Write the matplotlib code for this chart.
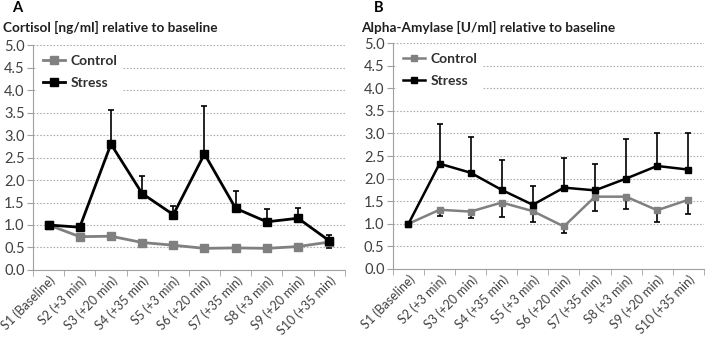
import matplotlib
matplotlib.use("Agg")
import matplotlib.pyplot as plt
import numpy as np

categories = ["S1 (Baseline)", "S2 (+3 min)", "S3 (+20 min)", "S4 (+35 min)", "S5 (+3 min)",
              "S6 (+20 min)", "S7 (+35 min)", "S8 (+3 min)", "S9 (+20 min)", "S10 (+35 min)"]

cort_stress = [1.0, 0.95, 2.80, 1.70, 1.23, 2.58, 1.37, 1.07, 1.15, 0.65]
cort_stress_err = [0.0, 0.0, 0.75, 0.40, 0.19, 1.07, 0.38, 0.28, 0.22, 0.13]
cort_control = [1.0, 0.74, 0.75, 0.61, 0.55, 0.48, 0.49, 0.48, 0.52, 0.62]
cort_control_err = [0.0, 0.0, 0.08, 0.0, 0.0, 0.0, 0.0, 0.0, 0.0, 0.14]

amy_stress = [1.0, 2.33, 2.13, 1.75, 1.42, 1.80, 1.74, 2.00, 2.28, 2.20]
amy_stress_err = [0.0, 0.89, 0.80, 0.67, 0.41, 0.65, 0.58, 0.87, 0.74, 0.80]
amy_control = [1.0, 1.31, 1.27, 1.47, 1.28, 0.94, 1.60, 1.60, 1.30, 1.53]
amy_control_err = [0.0, 0.14, 0.14, 0.33, 0.25, 0.14, 0.32, 0.28, 0.25, 0.31]

yticks = [0.0, 0.5, 1.0, 1.5, 2.0, 2.5, 3.0, 3.5, 4.0, 4.5, 5.0]

plt.rcParams['font.family'] = ['Lato', 'DejaVu Sans']

fig = plt.figure(figsize=(7.08, 3.37), dpi=100)
ax1 = fig.add_axes([0.0466, 0.199, 0.4404, 0.667])
ax2 = fig.add_axes([0.555, 0.202, 0.439, 0.670])

GRAY = '#808080'

def draw(ax, stress, serr, control, cerr, ms, lw):
    x = np.arange(len(categories))
    zeros = [0] * len(categories)
    ax.errorbar(x, control, yerr=[cerr, zeros], fmt='none', ecolor='black',
                elinewidth=1.2, capsize=2, capthick=1.2, zorder=2)
    ax.errorbar(x, stress, yerr=[zeros, serr], fmt='none', ecolor='black',
                elinewidth=1.2, capsize=2, capthick=1.2, zorder=2)
    ax.plot(x, control, color=GRAY, marker='s', markersize=ms, lw=lw, label='Control', zorder=3)
    ax.plot(x, stress, color='black', marker='s', markersize=ms, lw=lw, label='Stress', zorder=4)
    ax.set_xlim(-0.5, len(categories) - 0.5)
    ax.set_ylim(0, 5)
    ax.set_yticks(yticks)
    ax.set_yticklabels([f"{v:.1f}" for v in yticks], fontsize=10.5, color='#404040')
    ax.set_xticks(x)
    ax.set_xticklabels(categories, rotation=45, ha='right', rotation_mode='anchor',
                       fontsize=9, color='#404040')
    ax.tick_params(axis='x', length=0, pad=3)
    ax.set_xticks(np.arange(len(categories) + 1) - 0.5, minor=True)
    ax.tick_params(axis='x', which='minor', length=4, color='#a0a0a0')
    ax.tick_params(axis='y', length=4, color='#a0a0a0', pad=2)
    for s in ['top', 'right']:
        ax.spines[s].set_visible(False)
    for s in ['left', 'bottom']:
        ax.spines[s].set_color('#a0a0a0')
    ax.yaxis.grid(True, linestyle=(0, (1.5, 1.5)), color='#b0b0b0', lw=0.8)
    ax.set_axisbelow(True)
    leg = ax.legend(loc='upper left', frameon=True, fontsize=10, handlelength=1.6,
                    handletextpad=0.4, labelspacing=0.7, borderaxespad=0.3,
                    bbox_to_anchor=(0.0, 1.0))
    leg.get_frame().set_edgecolor('none')
    leg.get_frame().set_facecolor('white')
    leg.get_frame().set_alpha(1)
    for t in leg.get_texts():
        t.set_fontweight('bold')
        t.set_color('#303030')

draw(ax1, cort_stress, cort_stress_err, cort_control, cort_control_err, 6, 2)
draw(ax2, amy_stress, amy_stress_err, amy_control, amy_control_err, 5, 1.8)

fig.text(0.017, 0.977, "A", fontsize=10.5, fontweight='bold', va='center', ha='left')
fig.text(0.004, 0.918, "Cortisol [ng/ml] relative to baseline", fontsize=9.8,
         fontweight='bold', va='center', ha='left', color='#202020')
fig.text(0.528, 0.977, "B", fontsize=10.5, fontweight='bold', va='center', ha='left')
fig.text(0.510, 0.918, "Alpha-Amylase [U/ml] relative to baseline", fontsize=9.8,
         fontweight='bold', va='center', ha='left', color='#202020')

fig.savefig("out.png", dpi=100)
